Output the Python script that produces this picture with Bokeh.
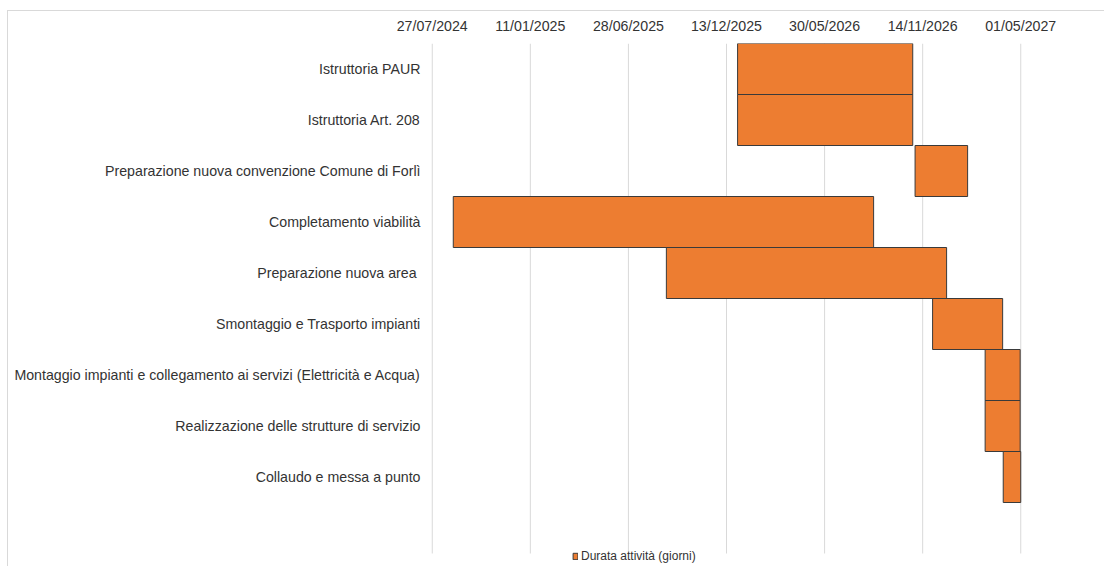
from datetime import datetime, timedelta

from bokeh.plotting import figure
from bokeh.models import (ColumnDataSource, Range1d, FixedTicker, DatetimeTickFormatter,
                          Legend, LegendItem, LinearAxis, DatetimeAxis)
from bokeh.embed import file_html
from bokeh.resources import INLINE

# ---- data ----
tasks = [
    "Istruttoria PAUR",
    "Istruttoria Art. 208",
    "Preparazione nuova convenzione Comune di Forlì",
    "Completamento viabilità",
    "Preparazione nuova area ",
    "Smontaggio e Trasporto impianti",
    "Montaggio impianti e collegamento ai servizi (Elettricità e Acqua)",
    "Realizzazione delle strutture di servizio",
    "Collaudo e messa a punto",
]
start_dates = ["2026-01-01", "2026-01-01", "2026-11-01", "2024-09-01", "2025-09-01",
               "2026-12-01", "2027-03-01", "2027-03-01", "2027-04-01"]
durations_days = [300, 300, 90, 720, 480, 120, 60, 60, 30]
tick_labels = ["27/07/2024", "11/01/2025", "28/06/2025", "13/12/2025",
               "30/05/2026", "14/11/2026", "01/05/2027"]
series_name = "Durata attività (giorni)"

FONT = "Liberation Sans"
TXT = "#333333"
GRID = "#d9d9d9"
FS = "14.2px"

starts = [datetime.strptime(s, "%Y-%m-%d") for s in start_dates]
ends = [s + timedelta(days=d) for s, d in zip(starts, durations_days)]
ticks_dt = [datetime.strptime(t, "%d/%m/%Y") for t in tick_labels]
epoch = datetime(1970, 1, 1)
ticks_ms = [(t - epoch).total_seconds() * 1000 for t in ticks_dt]

src = ColumnDataSource(dict(y=list(range(len(tasks))), left=starts, right=ends, task=tasks))

n_slots = len(tasks) + 1          # one empty category slot at the bottom (as in the original)
row_px = 51
pad = timedelta(days=3)

p = figure(width=1097, height=556, output_backend="svg", toolbar_location=None,
           x_axis_type=None, y_axis_type=None,
           x_range=Range1d(ticks_dt[0] - pad, ticks_dt[-1] + pad),
           y_range=Range1d(n_slots - 0.5 + 14 / row_px, -0.5),
           min_border_left=422, min_border_right=83, min_border_top=32, min_border_bottom=0)
p.outline_line_color = None
p.styles = {"margin-left": "7px", "margin-top": "10px",
            "border-left": "1px solid #d9d9d9", "border-top": "1px solid #d9d9d9"}

xaxis = DatetimeAxis(ticker=FixedTicker(ticks=ticks_ms),
                     formatter=DatetimeTickFormatter(
                         milliseconds="%d/%m/%Y", seconds="%d/%m/%Y", minsec="%d/%m/%Y",
                         minutes="%d/%m/%Y", hourmin="%d/%m/%Y", hours="%d/%m/%Y",
                         days="%d/%m/%Y", months="%d/%m/%Y", years="%d/%m/%Y"))
xaxis.axis_line_color = None
xaxis.major_tick_line_color = None
xaxis.minor_tick_line_color = None
xaxis.major_tick_out = 0
xaxis.major_tick_in = 0
xaxis.major_label_standoff = 10
xaxis.major_label_text_font = FONT
xaxis.major_label_text_font_size = FS
xaxis.major_label_text_color = TXT
p.add_layout(xaxis, "above")

# vertical gridlines at the date ticks, spanning the category slots only
p.segment(x0=ticks_dt, x1=ticks_dt, y0=-0.5, y1=n_slots - 0.5,
          line_color=GRID, line_width=1)

yaxis = LinearAxis(ticker=FixedTicker(ticks=list(range(len(tasks)))))
yaxis.major_label_overrides = {i: t for i, t in enumerate(tasks)}
yaxis.axis_line_color = None
yaxis.major_tick_line_color = None
yaxis.minor_tick_line_color = None
yaxis.major_tick_out = 0
yaxis.major_tick_in = 0
yaxis.major_label_standoff = 10
yaxis.major_label_text_font = FONT
yaxis.major_label_text_font_size = FS
yaxis.major_label_text_color = TXT
p.add_layout(yaxis, "left")

r = p.hbar(y="y", left="left", right="right", height=1.0, source=src,
           fill_color="#ED7D31", line_color="#3a3a3a", line_width=1)

legend = Legend(items=[LegendItem(label=series_name, renderers=[r])],
                location=(142, 4), orientation="horizontal",
                glyph_width=6, glyph_height=8, label_standoff=3, label_height=12,
                label_text_font=FONT, label_text_font_size="12px", label_text_color=TXT,
                padding=0, margin=0, border_line_color=None, background_fill_alpha=0)
p.add_layout(legend)

open("out.html", "w").write(file_html(p, INLINE))
